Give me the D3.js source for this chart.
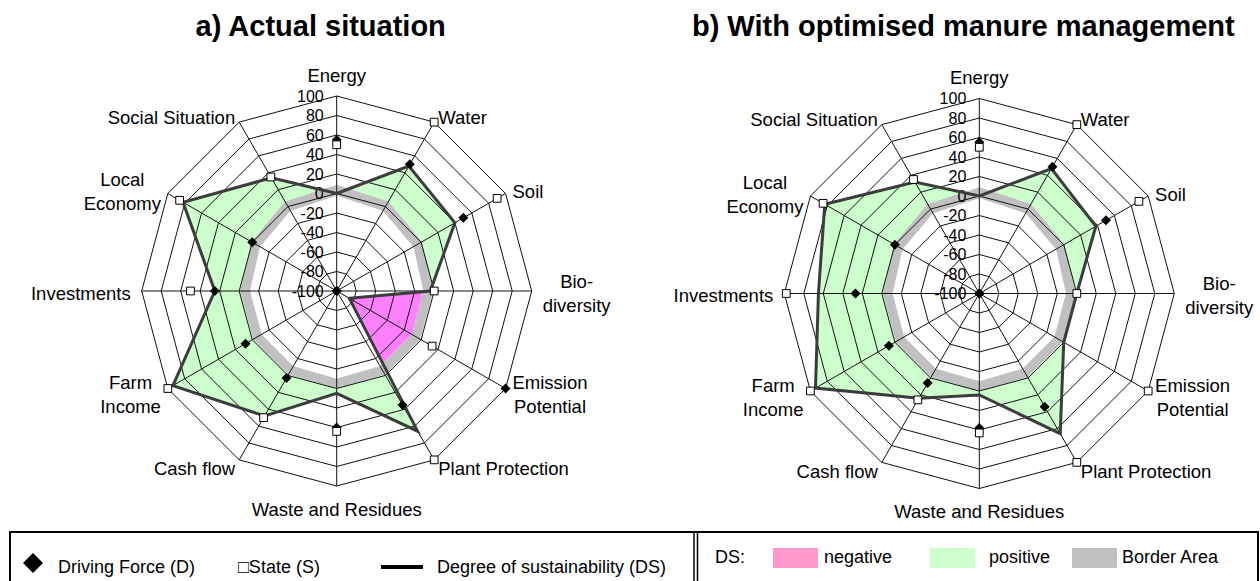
<!DOCTYPE html>
<html><head><meta charset="utf-8">
<script src="https://cdn.jsdelivr.net/npm/d3@7"></script>
<style>body{margin:0;background:#fff} svg{display:block} text{font-family:"Liberation Sans",Arial,sans-serif;fill:#000}</style>
</head><body><svg id="c" width="1260" height="581"></svg>
<script>
// ---------- data ----------
const categories = [["Energy"],["Water"],["Soil"],["Bio-","diversity"],["Emission","Potential"],["Plant Protection"],["Waste and Residues"],["Cash flow"],["Farm","Income"],["Investments"],["Local","Economy"],["Social Situation"]];
const tickValues = [100,80,60,40,20,0,-20,-40,-60,-80,-100];
const ringValues = [-80,-60,-40,-20,0,20,40,60,80,100];
const titles = ["a) Actual situation","b) With optimised manure management"];

// a) Actual situation
const drivingA = [55, 50, 50, -100, 100, 35, 40, 3, 8, 25, 0, -100];
const stateA   = [50, 100, 90, 0, 13, 100, 44, 50, 100, 50, 86, 35];
const dsA      = [0, 48, 40, -4, -85, 66, 5, 48, 94, 25, 82, 34];
// b) With optimised manure management
const drivingB = [55, 50, 50, -100, -100, 34, 38, 6, 7, 27, 0, -100];
const stateB   = [50, 100, 89, 0, 100, 100, 43, 26, 100, 98, 85, 35];
const dsB      = [0, 48, 38, 0, 0, 66, 4, 24, 94, 65, 83, 32];
// border area (grey band)
const borderInner = [-2, -5, -9, -11, -11, -11, -10, -11, -11, -11, -9, -5];
const borderOuter = [9, 6, 1, -1, -1, -1, 0, -1, -1, -1, 1, 6];

const legendLeft = ["Driving Force (D)", "\u25A1State (S)", "Degree of sustainability (DS)"];
const legendRight = ["negative","positive","Border Area"];

// ---------- drawing ----------
const svg = d3.select("#c");
const R = 195;
const r = d3.scaleLinear().domain([-100,100]).range([0,R]);
const ang = i => i*Math.PI/6;
const radial = d3.lineRadial().angle((d,i)=>ang(i)).radius(d=>r(d)).curve(d3.curveLinearClosed);
const polar = (rad,a)=>[rad*Math.sin(a), -rad*Math.cos(a)];

const GREEN="#ccffcc", PINK="#ff80ff", GREY="#c0c0c0";

function radar(cx, cy, D, S, DS, title, id){
  const g = svg.append("g").attr("transform",`translate(${cx},${cy})`);
  g.append("defs").append("clipPath").attr("id","inner"+id)
    .append("path").attr("d", radial(borderInner));
  // green: DS polygon
  g.append("path").attr("d", radial(DS)).attr("fill", GREEN);
  // erase inside the band
  g.append("path").attr("d", radial(borderOuter)).attr("fill", "#fff");
  // pink: inside inner border, outside DS
  g.append("path").attr("d", radial(borderInner)).attr("fill", PINK);
  g.append("path").attr("d", radial(DS)).attr("fill","#fff").attr("clip-path",`url(#inner${id})`);
  // grey band
  g.append("path").attr("d", radial(borderOuter)+radial(borderInner)).attr("fill", GREY).attr("fill-rule","evenodd");
  // rings
  ringValues.forEach(v=>{
    g.append("path").attr("d", radial(d3.range(12).map(()=>v))).attr("fill","none").attr("stroke","#111").attr("stroke-width",1);
  });
  // spokes
  d3.range(12).forEach(i=>{
    const p = polar(R, ang(i));
    g.append("line").attr("x1",0).attr("y1",0).attr("x2",p[0]).attr("y2",p[1]).attr("stroke","#111").attr("stroke-width",1);
  });
  // tick labels
  g.selectAll(".tick").data(tickValues).join("text")
    .attr("x",-13).attr("y",d=>-r(d)).attr("text-anchor","end").attr("dominant-baseline","central")
    .attr("font-size",16).text(d=>d);
  // DS line
  g.append("path").attr("d", radial(DS)).attr("fill","none").attr("stroke","#3c3c3c").attr("stroke-width",3).attr("stroke-linejoin","miter");
  // driving force diamonds
  g.selectAll(".d").data(D).join("path")
    .attr("d", d3.symbol(d3.symbolSquare, 50)())
    .attr("transform",(d,i)=>{const p=polar(r(d),ang(i));return `translate(${p[0]},${p[1]}) rotate(45)`;})
    .attr("fill","#000");
  // state squares
  g.selectAll(".s").data(S).join("path")
    .attr("d", d3.symbol(d3.symbolSquare, 60)())
    .attr("transform",(d,i)=>{const p=polar(r(d),ang(i));return `translate(${p[0]},${p[1]})`;})
    .attr("fill","#fff").attr("stroke","#000").attr("stroke-width",1);
  // category labels
  categories.forEach((lines,i)=>{
    const a = ang(i);
    const s = Math.sin(a);
    const t = g.append("text").attr("font-size",18.5);
    let bx, by, anchor;
    if(i===0){ bx=0; by=-R-21; anchor="middle"; }
    else if(i===6){ bx=0; by=R+23; anchor="middle"; }
    else {
      const pad = (i===3||i===9)?11:8;
      const p = polar(R+pad, a);
      bx=p[0]; by=p[1]+2; anchor = s>0?"start":"end";
    }
    lines.forEach((ln,k)=>{
      t.append("tspan").attr("x",0).attr("y", by + (k-(lines.length-1)/2)*24)
        .attr("dominant-baseline","central").text(ln);
    });
    if(lines.length>1){
      const w = d3.max(t.selectAll("tspan").nodes(), n=>n.getComputedTextLength());
      t.attr("text-anchor","middle");
      t.selectAll("tspan").attr("x", anchor==="start"? bx + w/2 : bx - w/2);
    } else {
      t.attr("text-anchor",anchor);
      t.selectAll("tspan").attr("x", bx);
    }
  });
  // title
  svg.append("text").attr("x",cx-16).attr("y",36).attr("text-anchor","middle")
    .attr("font-size",29).attr("font-weight","bold").text(title);
}

radar(336.7, 291, drivingA, stateA, dsA, titles[0], "a");
radar(979.3, 293.5, drivingB, stateB, dsB, titles[1], "b");

// ---------- legend ----------
const lg = svg.append("g");
lg.append("rect").attr("x",10).attr("y",532).attr("width",1248).attr("height",70)
  .attr("fill","none").attr("stroke","#000").attr("stroke-width",2);
lg.append("line").attr("x1",694).attr("x2",694).attr("y1",532).attr("y2",600).attr("stroke","#000").attr("stroke-width",1.5);
lg.append("line").attr("x1",697.5).attr("x2",697.5).attr("y1",532).attr("y2",600).attr("stroke","#000").attr("stroke-width",1.5);
lg.append("path").attr("d", d3.symbol(d3.symbolSquare, 200)()).attr("transform","translate(33,563) rotate(45)").attr("fill","#000");
lg.append("text").attr("x",58).attr("y",567).attr("dominant-baseline","central").attr("font-size",18).text(legendLeft[0]);
lg.append("text").attr("x",238).attr("y",567).attr("dominant-baseline","central").attr("font-size",18).text(legendLeft[1]);
lg.append("line").attr("x1",381).attr("x2",423).attr("y1",567).attr("y2",567).attr("stroke","#000").attr("stroke-width",4);
lg.append("text").attr("x",437).attr("y",567).attr("dominant-baseline","central").attr("font-size",18).text(legendLeft[2]);

lg.append("text").attr("x",715).attr("y",557).attr("dominant-baseline","central").attr("font-size",18).text("DS:");
const swatch = ["#ff99cc", GREEN, GREY];
const swX = [773, 930, 1072], txX = [824, 989, 1122];
legendRight.forEach((t,i)=>{
  lg.append("rect").attr("x",swX[i]).attr("y",548).attr("width",45).attr("height",20).attr("fill",swatch[i]);
  lg.append("text").attr("x",txX[i]).attr("y",557).attr("dominant-baseline","central").attr("font-size",18).text(t);
});
</script></body></html>
